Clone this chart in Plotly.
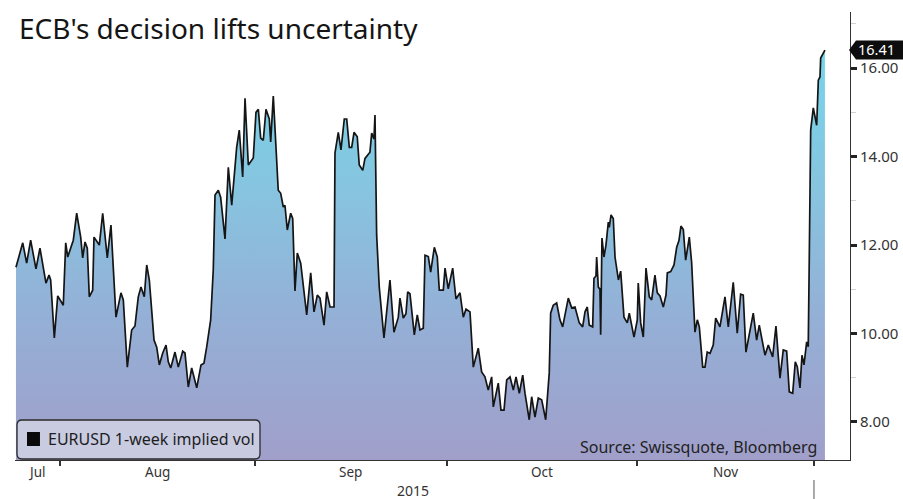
import plotly.graph_objects as go

# EURUSD 1-week implied volatility, late July to early December 2015.
# x = trading-session index (about one unit per business day from late July)
session = [
    0.11, 0.89, 1.34, 1.80, 2.41, 2.87, 3.56, 3.91, 4.10, 4.52,
    4.91, 5.55, 5.83, 6.06, 6.70, 7.09, 7.55, 7.78, 8.05, 8.31,
    8.54, 8.93, 9.08, 9.69, 10.08, 10.61, 11.03, 11.61, 12.18, 12.45,
    12.91, 13.41, 13.79, 14.17, 14.48, 14.86, 15.14, 15.44, 15.98, 16.29,
    16.59, 16.98, 17.36, 17.62, 17.90, 18.39, 18.77, 19.28, 19.54, 19.92,
    20.31, 20.89, 21.38, 21.72, 22.03, 22.49, 22.79, 22.99, 23.37, 23.64,
    24.14, 24.52, 24.91, 25.48, 25.78, 26.17, 26.44, 26.82, 27.39, 27.70,
    27.97, 28.24, 28.54, 28.85, 29.23, 29.39, 29.69, 30.00, 30.26, 30.54,
    30.84, 31.03, 31.30, 31.69, 31.92, 32.18, 32.45, 32.84, 33.53, 33.99,
    34.37, 34.75, 35.06, 35.52, 35.83, 36.21, 36.67, 36.78, 37.16, 37.47,
    37.85, 38.13, 38.43, 38.70, 38.97, 39.34, 39.57, 39.97, 40.23, 40.80,
    41.00, 41.26, 41.38, 41.57, 41.87, 42.41, 43.10, 43.56, 44.06, 44.25,
    44.63, 44.94, 45.14, 45.40, 45.90, 46.24, 46.55, 46.93, 47.13, 47.51,
    47.78, 48.20, 48.54, 48.77, 49.23, 49.43, 49.80, 50.31, 50.69, 51.15,
    51.53, 51.84, 52.30, 52.68, 53.25, 53.64, 54.02, 54.40, 54.79, 54.98,
    55.55, 55.86, 56.21, 56.52, 56.90, 57.28, 57.59, 57.97, 58.36, 58.62,
    59.11, 59.39, 59.77, 60.15, 60.54, 61.00, 61.41, 61.57, 61.87, 62.26,
    62.64, 62.95, 63.22, 63.60, 63.99, 64.37, 64.86, 65.25, 65.52, 65.78,
    66.01, 66.40, 66.55, 66.78, 66.86, 67.05, 67.24, 67.32, 67.47, 67.70,
    67.93, 68.20, 68.31, 68.51, 68.77, 68.97, 69.36, 69.62, 70.00, 70.38,
    70.61, 71.15, 71.53, 71.64, 71.92, 72.22, 72.53, 72.91, 73.18, 73.56,
    73.83, 74.14, 74.52, 74.83, 74.98, 75.37, 75.75, 76.06, 76.32, 76.55,
    76.82, 77.09, 77.51, 77.78, 78.16, 78.43, 78.66, 79.05, 79.31, 79.57,
    79.89, 80.26, 80.54, 81.03, 81.61, 81.99, 82.56, 83.02, 83.41, 83.71,
    84.02, 84.40, 84.86, 85.25, 85.55, 86.21, 86.59, 87.09, 87.47, 87.93,
    88.31, 88.70, 89.00, 89.39, 89.69, 89.92, 90.23, 90.46, 90.69, 91.00,
    91.18, 91.30, 91.46, 91.76, 92.15, 92.34, 92.53, 92.61, 92.91, 93.10,
]
vol = [
    11.50, 12.05, 11.59, 12.11, 11.46, 11.93, 11.14, 11.32, 11.21, 9.90,
    10.85, 10.64, 12.05, 11.73, 12.11, 12.72, 12.18, 11.71, 12.07, 11.93,
    10.83, 10.98, 12.18, 12.00, 12.72, 11.71, 12.45, 10.37, 10.92, 10.76,
    9.24, 10.08, 10.17, 10.83, 11.05, 10.83, 11.55, 11.21, 9.85, 9.69,
    9.29, 9.56, 9.74, 9.36, 9.22, 9.58, 9.24, 9.60, 9.56, 8.79,
    9.22, 8.77, 9.29, 9.33, 9.69, 10.31, 11.44, 13.13, 13.24, 13.08,
    12.14, 13.76, 12.90, 14.21, 14.60, 13.54, 15.32, 13.81, 13.97, 15.00,
    15.07, 14.42, 14.37, 15.07, 14.85, 14.33, 15.37, 14.33, 13.24, 13.17,
    12.86, 12.90, 12.34, 12.72, 12.60, 10.96, 11.82, 11.59, 10.42, 11.37,
    10.49, 10.87, 10.80, 10.19, 10.94, 10.60, 10.60, 14.08, 14.55, 14.15,
    14.85, 14.85, 14.21, 14.21, 14.55, 14.45, 13.81, 13.69, 13.96, 14.10,
    14.53, 14.40, 14.94, 12.23, 11.05, 9.90, 11.21, 10.03, 10.37, 10.80,
    10.35, 10.45, 10.94, 10.90, 9.97, 10.42, 10.08, 10.12, 11.77, 11.74,
    11.39, 11.95, 11.73, 10.98, 10.98, 11.48, 11.01, 11.48, 10.78, 10.92,
    10.37, 10.55, 10.49, 9.24, 9.67, 9.13, 9.02, 8.72, 9.02, 8.34,
    8.88, 8.27, 8.27, 8.95, 9.02, 8.72, 9.02, 8.65, 9.06, 8.65,
    8.05, 8.57, 8.11, 8.54, 8.50, 8.05, 9.11, 10.46, 10.64, 10.69,
    10.31, 10.15, 10.46, 10.80, 10.58, 10.60, 10.24, 10.15, 10.49, 10.60,
    10.19, 10.15, 11.25, 11.30, 11.73, 11.05, 11.00, 9.97, 12.16, 11.73,
    12.00, 12.52, 12.40, 12.68, 12.60, 11.73, 11.21, 11.41, 10.37, 10.24,
    10.46, 9.92, 10.31, 11.14, 10.24, 9.92, 11.48, 10.83, 10.76, 11.32,
    10.92, 10.85, 10.60, 10.87, 11.37, 11.40, 11.55, 11.95, 12.10, 12.43,
    12.35, 11.66, 12.18, 11.60, 10.03, 10.31, 10.15, 9.24, 9.24, 9.58,
    9.55, 9.74, 10.35, 10.15, 10.83, 10.15, 11.16, 10.01, 10.89, 10.87,
    9.58, 9.97, 10.46, 9.85, 10.19, 9.51, 9.74, 9.47, 10.17, 8.99,
    9.63, 9.60, 8.68, 8.65, 9.36, 9.25, 8.77, 9.51, 9.29, 9.81,
    9.70, 11.73, 14.60, 15.10, 14.71, 15.73, 15.80, 16.23, 16.35, 16.41,
]

# month boundaries and month-label centres on the session axis
month_edges = [5.17, 27.59, 49.66, 71.49, 91.84]
month_mid = [2.53, 16.38, 38.62, 60.57, 81.66]
month_names = ["Jul", "Aug", "Sep", "Oct", "Nov"]
year_pos = 45.75
year_label = "2015"
y_ticks = [8, 10, 12, 14, 16]

x_range = [0, 95.98]
y_range = [7.14, 17.27]

FONT = "Noto Sans, DejaVu Sans, sans-serif"
TXT = "#333333"

fig = go.Figure()
fig.add_trace(go.Scatter(
    x=session, y=vol, mode="lines",
    name="EURUSD 1-week implied vol",
    line=dict(color="#151515", width=1.7),
    fill="tozeroy",
    fillgradient=dict(
        type="vertical",
        start=y_range[0], stop=16.5,
        colorscale=[[0, "#a09fca"], [0.35, "#94b0d6"],
                    [0.65, "#87c4df"], [1, "#75d5ea"]],
    ),
    showlegend=False,
    hoverinfo="skip",
))

annotations = []
shapes = []

# title
annotations.append(dict(
    text="ECB's decision lifts uncertainty", xref="paper", yref="paper",
    x=0.0024, y=0.9645, xanchor="left", yanchor="middle", showarrow=False,
    font=dict(family=FONT, size=28, color="#151515"),
))

# month labels centred between boundaries, year below
for name, pos in zip(month_names, month_mid):
    annotations.append(dict(
        text=name, xref="x", yref="paper", x=pos, y=-0.0268,
        xanchor="center", yanchor="middle", showarrow=False,
        font=dict(family=FONT, size=13.5, color=TXT),
    ))
annotations.append(dict(
    text=year_label, xref="x", yref="paper", x=year_pos, y=-0.0680,
    xanchor="center", yanchor="middle", showarrow=False,
    font=dict(family=FONT, size=14, color=TXT),
))
shapes.append(dict(
    type="line", xref="x", yref="paper",
    x0=month_edges[-1], x1=month_edges[-1], y0=-0.0446, y1=-0.0871,
    line=dict(color="#555555", width=1),
))

# legend box (rounded)
x0, x1, y0, y1 = 0.0024, 0.2934, 0.0022, 0.0893
rx, ry = 0.006, 0.0112
path = (f"M{x0+rx},{y0} L{x1-rx},{y0} Q{x1},{y0} {x1},{y0+ry} "
        f"L{x1},{y1-ry} Q{x1},{y1} {x1-rx},{y1} L{x0+rx},{y1} "
        f"Q{x0},{y1} {x0},{y1-ry} L{x0},{y0+ry} Q{x0},{y0} {x0+rx},{y0} Z")
shapes.append(dict(type="path", xref="paper", yref="paper", path=path,
                   fillcolor="#c9cbe1", line=dict(color="#2a2a2a", width=1.3),
                   layer="above"))
shapes.append(dict(type="rect", xref="paper", yref="paper",
                   x0=0.0144, x1=0.0299, y0=0.0313, y1=0.0625,
                   fillcolor="#0a0a0a", line=dict(width=0), layer="above"))
annotations.append(dict(
    text="EURUSD 1-week implied vol", xref="paper", yref="paper",
    x=0.0371, y=0.0469, xanchor="left", yanchor="middle", showarrow=False,
    font=dict(family=FONT, size=16, color="#1e1e1e"),
))

# source note
annotations.append(dict(
    text="Source: Swissquote, Bloomberg", xref="paper", yref="paper",
    x=0.9629, y=0.0297, xanchor="right", yanchor="middle", showarrow=False,
    font=dict(family=FONT, size=16, color="#222222"),
))

# last-value marker on the right axis
last = vol[-1]
h = 0.215
tag = (f"M0.9988,{last} L1.0072,{last + h} L1.07,{last + h} "
       f"L1.07,{last - h} L1.0072,{last - h} Z")
shapes.append(dict(type="path", xref="paper", yref="y", path=tag,
                   fillcolor="#0d0d0d", line=dict(width=0), layer="above"))
annotations.append(dict(
    text=f"{last:.2f}", xref="paper", yref="y", x=1.0084, y=last + 0.02,
    xanchor="left", yanchor="middle", showarrow=False, borderpad=0,
    font=dict(family=FONT, size=14.5, color="#ffffff"),
))

fig.update_layout(
    width=903, height=499, autosize=False,
    margin=dict(l=15, r=53, t=12, b=39, pad=0),
    paper_bgcolor="white", plot_bgcolor="white",
    showlegend=False,
    annotations=annotations, shapes=shapes,
    xaxis=dict(
        range=x_range, showgrid=False, zeroline=False, automargin=False,
        showline=True, linecolor="#333333", linewidth=1,
        tickmode="array", tickvals=month_edges, showticklabels=False,
        ticks="outside", ticklen=5, tickwidth=1.5, tickcolor="#333333",
    ),
    yaxis=dict(
        range=y_range, side="right", showgrid=False, zeroline=False,
        automargin=False,
        showline=True, linecolor="#333333", linewidth=1,
        tickmode="array", tickvals=y_ticks, tickformat=".2f",
        ticks="outside", ticklen=6, tickwidth=2.5, tickcolor="#222222",
        tickfont=dict(family=FONT, size=15, color=TXT),
        minor=dict(ticks="outside", tick0=0, dtick=1, ticklen=5,
                   tickwidth=1, tickcolor="#d2d2d2"),
    ),
)

fig.write_html("out.html")
